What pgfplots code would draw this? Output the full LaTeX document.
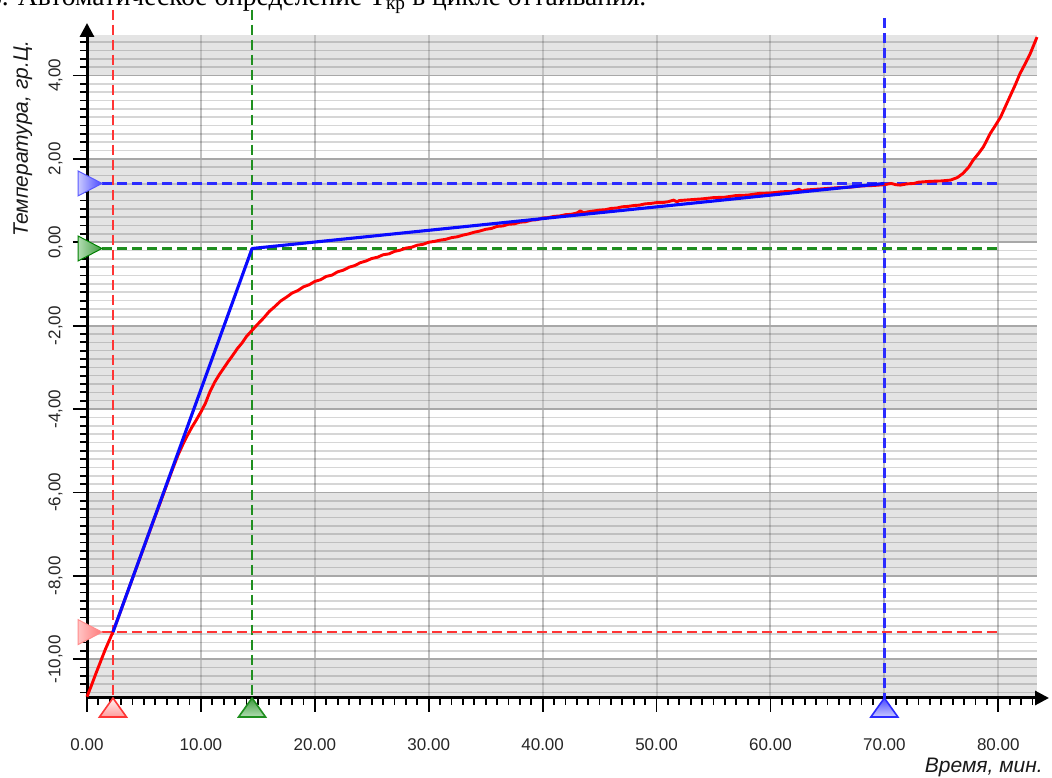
\documentclass[border=0pt]{standalone}
\usepackage{pgfplots}
\pgfplotsset{compat=1.18}
\usepackage{fontspec}
\setmainfont{Liberation Sans}
\newfontfamily\seriffont{Liberation Serif}
\usetikzlibrary{arrows.meta}

\definecolor{band}{HTML}{E4E4E4}
\definecolor{cred}{HTML}{FF0000}
\definecolor{dred}{HTML}{FF3535}
\definecolor{dgreen}{HTML}{1F8F1F}
\definecolor{dblue}{HTML}{2B2BFF}
\definecolor{cblue}{HTML}{0A0AFF}
% marker shading colours
\definecolor{gL}{HTML}{B2DDB2}
\definecolor{gD}{HTML}{3E9B3E}
\definecolor{bL}{HTML}{CACAFF}
\definecolor{bD}{HTML}{4A4AFF}
\definecolor{rL}{HTML}{FFF2F2}
\definecolor{rD}{HTML}{FF9C9C}
\definecolor{rL2}{HTML}{FFC4C4}
\definecolor{rD2}{HTML}{FF7A7A}

\pgfdeclareverticalshading{shGup}{100bp}{color(0bp)=(gL); color(25bp)=(gL); color(75bp)=(gD); color(100bp)=(gD)}
\pgfdeclareverticalshading{shBup}{100bp}{color(0bp)=(bL); color(25bp)=(bL); color(75bp)=(bD); color(100bp)=(bD)}
\pgfdeclareverticalshading{shRup}{100bp}{color(0bp)=(rD); color(25bp)=(rD); color(75bp)=(rL); color(100bp)=(rL)}
\pgfdeclarehorizontalshading{shGri}{100bp}{color(0bp)=(gL); color(25bp)=(gL); color(75bp)=(gD); color(100bp)=(gD)}
\pgfdeclarehorizontalshading{shBri}{100bp}{color(0bp)=(bL); color(25bp)=(bL); color(75bp)=(bD); color(100bp)=(bD)}
\pgfdeclarehorizontalshading{shRri}{100bp}{color(0bp)=(rL2); color(25bp)=(rL2); color(75bp)=(rD2); color(100bp)=(rD2)}

\def\tuppath{%
  \pgfpathmoveto{\pgfqpoint{0pt}{0pt}}%
  \pgfpathlineto{\pgfqpoint{13.5pt}{-19pt}}%
  \pgfpathlineto{\pgfqpoint{-13.5pt}{-19pt}}%
  \pgfpathclose}
\def\tripath{%
  \pgfpathmoveto{\pgfqpoint{15pt}{0pt}}%
  \pgfpathlineto{\pgfqpoint{-9pt}{12.5pt}}%
  \pgfpathlineto{\pgfqpoint{-9pt}{-12.5pt}}%
  \pgfpathclose}
\pgfdeclareplotmark{tupG}{\tuppath\pgfshadepath{shGup}{0}\pgfusepathqstroke}
\pgfdeclareplotmark{tupB}{\tuppath\pgfshadepath{shBup}{0}\pgfusepathqstroke}
\pgfdeclareplotmark{tupR}{\tuppath\pgfshadepath{shRup}{0}\pgfusepathqstroke}
\pgfdeclareplotmark{triG}{\tripath\pgfshadepath{shGri}{0}\pgfusepathqstroke}
\pgfdeclareplotmark{triB}{\tripath\pgfshadepath{shBri}{0}\pgfusepathqstroke}
\pgfdeclareplotmark{triR}{\tripath\pgfshadepath{shRri}{0}\pgfusepathqstroke}

\begin{document}
\begin{tikzpicture}[x=1pt,y=1pt]
\begin{axis}[
  set layers=standard,
  at={(87pt,80pt)}, anchor=south west,
  scale only axis, width=950pt, height=663pt,
  xmin=0, xmax=83.4, ymin=-10.93, ymax=4.97,
  axis lines=left, clip=false,
  axis line style={line width=3pt, black, -{Triangle[length=14pt,width=14pt]}, shorten >=-12pt},
  xtick={0,10,...,80}, minor xtick={0,1,...,83},
  ytick={-10,-8,...,4}, minor ytick={-10.8,-10.6,...,4.8},
  tick align=outside, major tick length=14pt, minor tick length=7pt,
  tick style={black, line width=1.8pt},
  xmajorgrids, ymajorgrids, yminorgrids,
  major x grid style={draw=black!24, line width=2pt},
  major y grid style={draw=black!34, line width=1.8pt},
  minor y grid style={draw=black, opacity=0.16, line width=1.6pt},
  xticklabel shift=23pt, yticklabel shift=7pt,
  xticklabel style={/pgf/number format/.cd, fixed, fixed zerofill, precision=2, assume math mode=true, /tikz/.cd,
     font=\fontsize{17}{20}\selectfont, text=black!85},
  yticklabel style={/pgf/number format/.cd, fixed, fixed zerofill, precision=2, use comma, assume math mode=true, /tikz/.cd,
     font=\fontsize{17}{20}\selectfont, text=black!85, rotate=90, anchor=south},
]
\begin{pgfonlayer}{axis background}
\fill[band] (axis cs:0,4) rectangle (axis cs:83.4,4.97);
\fill[band] (axis cs:0,0) rectangle (axis cs:83.4,2);
\fill[band] (axis cs:0,-4) rectangle (axis cs:83.4,-2);
\fill[band] (axis cs:0,-8) rectangle (axis cs:83.4,-6);
\fill[band] (axis cs:0,-10.93) rectangle (axis cs:83.4,-10);
\end{pgfonlayer}

% dashed marker lines
\addplot[dred, line width=2.3pt, dash pattern=on 10pt off 5pt] coordinates {(2.28,5.58) (2.28,-10.93)};
\addplot[dgreen, line width=2.3pt, dash pattern=on 10pt off 5pt] coordinates {(14.49,5.58) (14.49,-10.93)};
\addplot[dblue, line width=2.3pt, dash pattern=on 10pt off 5pt] coordinates {(70,5.37) (70,-10.93)};
\addplot[dred, line width=2.3pt, dash pattern=on 10pt off 5pt] coordinates {(0,-9.35) (80,-9.35)};
\addplot[dgreen, line width=2.3pt, dash pattern=on 10pt off 5pt] coordinates {(0,-0.15) (80,-0.15)};
\addplot[dblue, line width=2.3pt, dash pattern=on 10pt off 5pt] coordinates {(0,1.41) (80,1.41)};

% measured temperature
\addplot[cred, line width=2.9pt, line join=round] coordinates {
(0.0,-10.90) (0.4,-10.62) (0.8,-10.33) (1.2,-10.05) (1.6,-9.77) (2.0,-9.52) (2.3,-9.33)
(2.8,-8.96) (3.4,-8.51) (4.0,-8.06) (4.6,-7.61) (5.2,-7.16) (5.8,-6.71) (6.4,-6.27)
(7.0,-5.82) (7.5,-5.45) (8.0,-5.10) (8.4,-4.86) (8.8,-4.64) (9.2,-4.44) (9.6,-4.26)
(10.0,-4.07) (10.4,-3.86) (10.8,-3.58) (11.2,-3.36) (11.6,-3.18) (12.0,-3.02) (12.4,-2.86)
(12.8,-2.71) (13.2,-2.55) (13.6,-2.42) (14.0,-2.26) (14.5,-2.11) (15.0,-1.96) (15.5,-1.82)
(16.0,-1.66) (16.5,-1.54) (17.0,-1.41) (17.5,-1.32) (18.0,-1.22) (18.5,-1.16) (19.0,-1.07)
(19.5,-1.02) (20.0,-0.94) (20.5,-0.90) (21.0,-0.82) (21.5,-0.79) (22.0,-0.71) (22.5,-0.67)
(23.0,-0.60) (23.5,-0.56) (24.0,-0.49) (24.5,-0.45) (25.0,-0.39) (25.5,-0.36) (26.0,-0.30)
(26.5,-0.28) (27.0,-0.22) (27.5,-0.19) (28.0,-0.14) (28.5,-0.12) (29.0,-0.07) (29.5,-0.05)
(30.0,0.00) (30.5,0.02) (31.0,0.05) (31.5,0.07) (32.0,0.11) (32.5,0.13) (33.0,0.17)
(33.5,0.20) (34.0,0.24) (34.5,0.27) (35.0,0.31) (35.5,0.33) (36.0,0.38) (36.5,0.39)
(37.0,0.43) (37.5,0.44) (38.0,0.48) (38.5,0.49) (39.0,0.53) (39.5,0.54) (40.0,0.58)
(40.5,0.59) (41.0,0.62) (41.5,0.63) (42.0,0.66) (42.5,0.67) (43.0,0.70) (43.3,0.75)
(43.6,0.71) (44.0,0.73) (44.5,0.75) (45.0,0.77) (45.5,0.78) (46.0,0.81) (46.5,0.82)
(47.0,0.85) (47.5,0.86) (48.0,0.88) (48.5,0.89) (49.0,0.92) (49.5,0.93) (50.0,0.95)
(50.5,0.95) (51.0,0.97) (51.5,1.01) (51.8,0.97) (52.0,1.00) (53.0,1.02) (54.0,1.04)
(55.0,1.07) (56.0,1.08) (57.0,1.12) (58.0,1.13) (59.0,1.17) (60.0,1.18) (61.0,1.21)
(62.0,1.22) (62.5,1.27) (62.8,1.23) (63.0,1.25) (64.0,1.27) (65.0,1.29) (66.0,1.31)
(67.0,1.32) (68.0,1.35) (69.0,1.36) (70.0,1.38) (70.6,1.41) (71.0,1.38) (71.4,1.37)
(72.0,1.40) (72.6,1.41) (73.0,1.44) (74.0,1.46) (75.0,1.47) (75.8,1.49) (76.4,1.55)
(76.9,1.65) (77.4,1.80) (77.8,1.97) (78.3,2.14) (78.7,2.29) (79.3,2.61) (79.7,2.78)
(80.2,3.00) (80.6,3.24) (81.0,3.48) (81.5,3.78) (81.9,4.04) (82.4,4.30) (82.8,4.52)
(83.1,4.72) (83.4,4.92)
};

% fitted line
\addplot[cblue, line width=3.1pt, line join=round] coordinates {(2.28,-9.35) (14.49,-0.15) (70.0,1.41)};

% markers on the axes
\addplot[on layer=axis foreground, only marks, mark=tupR, mark options={draw=dred, line width=1.6pt}] coordinates {(2.28,-10.93)};
\addplot[on layer=axis foreground, only marks, mark=tupG, mark options={draw=dgreen, line width=1.6pt}] coordinates {(14.49,-10.93)};
\addplot[on layer=axis foreground, only marks, mark=tupB, mark options={draw=dblue, line width=1.6pt}] coordinates {(70,-10.93)};
\addplot[on layer=axis foreground, only marks, mark=triR, mark options={draw=red!45, line width=1pt}] coordinates {(0,-9.35)};
\addplot[on layer=axis foreground, only marks, mark=triG, mark options={draw=green!50!black, line width=1pt}] coordinates {(0,-0.15)};
\addplot[on layer=axis foreground, only marks, mark=triB, mark options={draw=blue!65, line width=1pt}] coordinates {(0,1.41)};
\end{axis}

\node[anchor=base east, inner sep=0pt, font=\itshape\fontsize{21}{24}\selectfont, text=black!90] at (1043,5) {Время, мин.};
\node[anchor=base west, inner sep=0pt, rotate=90, font=\itshape\fontsize{21}{24}\selectfont, text=black!90] at (28,541) {Температура, гр.Ц.};
\node[anchor=base west, inner sep=0pt, font=\seriffont\fontsize{27.5}{32}\selectfont] at (-12,772) {6. Автоматическое определение T\textsubscript{кр} в цикле оттаивания.};

\pgfresetboundingbox
\useasboundingbox (0,0) rectangle (1052,778);
\end{tikzpicture}
\end{document}
